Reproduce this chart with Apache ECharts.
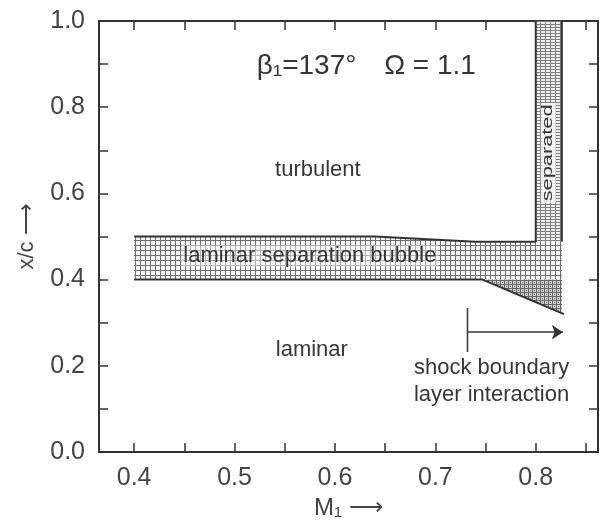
<!DOCTYPE html>
<html>
<head>
<meta charset="utf-8">
<script src="https://cdn.jsdelivr.net/npm/echarts@6/dist/echarts.min.js"></script>
<style>
  html, body { margin: 0; padding: 0; background: #fff; }
  #chart { width: 600px; height: 527px; }
</style>
</head>
<body>
<div id="chart"></div>
<script>
// ticks and labels
const xTicks = [0.4, 0.45, 0.5, 0.55, 0.6, 0.65, 0.7, 0.75, 0.8, 0.85]
const xLabels = [0.4, 0.5, 0.6, 0.7, 0.8]
const yTicks = [0, 0.1, 0.2, 0.3, 0.4, 0.5, 0.6, 0.7, 0.8, 0.9, 1.0]
const yLabels = [0, 0.2, 0.4, 0.6, 0.8, 1.0]

// boundaries, [M1, x/c]
const bubbleTop = [[0.4, 0.5], [0.64, 0.5], [0.74, 0.488], [0.8, 0.488], [0.8, 1.0]]
const bubbleBottom = [[0.4, 0.4], [0.747, 0.4], [0.828, 0.32]]
const separatedRight = [[0.826, 0.488], [0.826, 1.0]]
const shockTick = [[0.732, 0.334], [0.732, 0.232]]
const shockArrow = [[0.732, 0.278], [0.827, 0.278]]

// shaded areas
const bubbleArea = [[0.4, 0.5], [0.64, 0.5], [0.74, 0.488], [0.826, 0.488], [0.826, 0.4], [0.4, 0.4]]
const shockArea = [[0.747, 0.4], [0.826, 0.4], [0.826, 0.322]]
const separatedArea = [[0.8, 1.0], [0.826, 1.0], [0.826, 0.488], [0.8, 0.488]]

// annotations [M1, x/c, text]
const notes = [
  [0.583, 0.654, 'turbulent'],
  [0.575, 0.455, 'laminar separation bubble'],
  [0.577, 0.237, 'laminar'],
  [0.756, 0.195, 'shock boundary'],
  [0.756, 0.132, 'layer interaction']
]
const title = [
  [0.522, 0.896, 'β₁=137°'],
  [0.649, 0.896, 'Ω = 1.1']
]
const sepLabel = [0.8125, 0.694, 'separated']

const font = 'Liberation Sans, Arial, sans-serif'
const ink = '#333'
const textInk = '#363636'

function pattern(w, h, draw) {
  const c = document.createElement('canvas')
  c.width = w
  c.height = h
  const ctx = c.getContext('2d')
  draw(ctx)
  return { image: c, repeat: 'repeat' }
}
const gridPat = pattern(5, 5, function (ctx) {
  ctx.fillStyle = '#f4f4f4'
  ctx.fillRect(0, 0, 5, 5)
  ctx.fillStyle = '#707070'
  ctx.fillRect(0, 0, 5, 1)
  ctx.fillRect(0, 0, 1, 5)
})
const densePat = pattern(4, 4, function (ctx) {
  ctx.fillStyle = '#d0d0d0'
  ctx.fillRect(0, 0, 4, 4)
  ctx.fillStyle = '#666'
  ctx.fillRect(0, 0, 4, 1)
  ctx.fillRect(0, 0, 1, 4)
  ctx.fillRect(2, 2, 1, 1)
})
const sepPat = pattern(5, 3, function (ctx) {
  ctx.fillStyle = '#eeeeee'
  ctx.fillRect(0, 0, 5, 3)
  ctx.fillStyle = '#808080'
  ctx.fillRect(0, 0, 5, 1)
  ctx.fillRect(0, 0, 1, 3)
})

const areas = [bubbleArea, shockArea, separatedArea]
const fills = [gridPat, densePat, sepPat]

const chart = echarts.init(document.getElementById('chart'))

function edgeAxis(pos, isX) {
  return {
    type: 'value',
    position: pos,
    min: isX ? 0.365 : 0,
    max: isX ? 0.862 : 1,
    axisLine: { show: true, onZero: false, lineStyle: { color: ink, width: 2 } },
    axisTick: { show: true, inside: true, length: 9, customValues: isX ? xTicks : yTicks, lineStyle: { color: ink, width: 1.5 } },
    axisLabel: { show: false },
    splitLine: { show: false }
  }
}

const xMain = edgeAxis('bottom', true)
xMain.axisLabel = { show: true, customValues: xLabels, formatter: v => v.toFixed(1), fontSize: 25, color: '#444', fontFamily: font, margin: 14 }
xMain.name = 'M₁ ⟶'
xMain.nameLocation = 'middle'
xMain.nameGap = 44
xMain.nameTextStyle = { fontSize: 24, color: '#444', fontFamily: font }

const yMain = edgeAxis('left', false)
yMain.axisLabel = { show: true, customValues: yLabels, formatter: v => v.toFixed(1), fontSize: 25, color: '#444', fontFamily: font, margin: 14 }
yMain.name = 'x/c ⟶'
yMain.nameLocation = 'middle'
yMain.nameGap = 61
yMain.nameRotate = 90
yMain.nameTextStyle = { fontSize: 22, color: '#444', fontFamily: font }

function outline(data) {
  return {
    type: 'line', data: data, symbol: 'none', silent: true, z: 5,
    lineStyle: { color: ink, width: 2 }
  }
}

const option = {
  animation: false,
  backgroundColor: '#fff',
  grid: { left: 99, right: 2, top: 21, bottom: 75 },
  xAxis: [xMain, edgeAxis('top', true)],
  yAxis: [yMain, edgeAxis('right', false)],
  series: [
    {
      type: 'custom',
      silent: true,
      z: 2,
      data: areas.map((a, i) => [i]),
      renderItem: function (params, api) {
        const pts = areas[params.dataIndex].map(p => api.coord(p))
        return { type: 'polygon', shape: { points: pts }, style: { fill: fills[params.dataIndex] } }
      }
    },
    outline(bubbleTop),
    outline(bubbleBottom),
    outline(separatedRight),
    {
      type: 'line', data: shockTick, symbol: 'none', silent: true, z: 5,
      lineStyle: { color: ink, width: 1.5 },
      markLine: {
        silent: true,
        symbol: ['none', 'arrow'],
        symbolSize: 11,
        label: { show: false },
        lineStyle: { type: 'solid', color: ink, width: 1.5 },
        data: [[{ coord: shockArrow[0] }, { coord: shockArrow[1] }]]
      }
    },
    {
      type: 'custom',
      silent: true,
      z: 6,
      data: notes.map(n => [n[0], n[1]]),
      renderItem: function (params, api) {
        const p = api.coord([api.value(0), api.value(1)])
        const isBubble = params.dataIndex === 1
        return {
          type: 'text', x: p[0], y: p[1],
          style: {
            text: notes[params.dataIndex][2],
            fontSize: 22, fontFamily: font, fill: textInk,
            align: 'center', verticalAlign: 'middle',
            backgroundColor: isBubble ? 'rgba(255,255,255,0.45)' : null,
            padding: isBubble ? [0, 2] : 0
          }
        }
      }
    },
    {
      type: 'custom',
      silent: true,
      z: 6,
      data: title.map(t => [t[0], t[1]]),
      renderItem: function (params, api) {
        const p = api.coord([api.value(0), api.value(1)])
        return {
          type: 'text', x: p[0], y: p[1],
          style: { text: title[params.dataIndex][2], fontSize: 28, fontFamily: font, fill: textInk, align: 'left', verticalAlign: 'middle' }
        }
      }
    },
    {
      type: 'custom',
      silent: true,
      z: 6,
      data: [[sepLabel[0], sepLabel[1]]],
      renderItem: function (params, api) {
        const p = api.coord([api.value(0), api.value(1)])
        return {
          type: 'text', x: p[0], y: p[1], rotation: Math.PI / 2, scaleX: 1.45,
          style: {
            text: sepLabel[2], fontSize: 15, fontFamily: font, fill: textInk,
            align: 'center', verticalAlign: 'middle',
            backgroundColor: 'rgba(255,255,255,0.8)', padding: [0, 1]
          }
        }
      }
    }
  ]
}

chart.setOption(option)
</script>
</body>
</html>
